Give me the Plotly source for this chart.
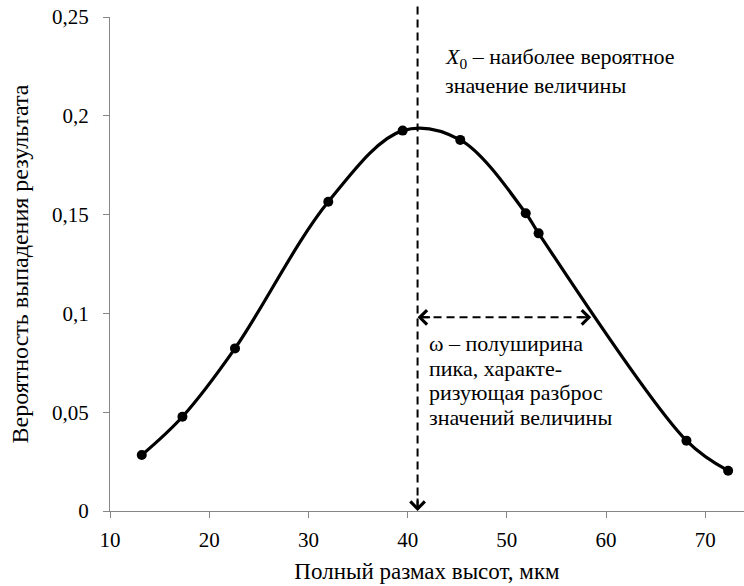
import plotly.graph_objects as go

x_vals = [13.2, 17.3, 22.6, 32.0, 39.5, 45.3, 51.9, 53.2, 68.1, 72.3]
y_vals = [0.0283, 0.0477, 0.0823, 0.1565, 0.1925, 0.1878, 0.1507, 0.1405, 0.0356, 0.0204]

x0_mode = 41.0          # most probable value X0
half_level = 0.098      # level of the half-width arrow
half_right = 58.5       # right end of the half-width arrow

x_ticks = [10, 20, 30, 40, 50, 60, 70]
y_ticks = [0, 0.05, 0.1, 0.15, 0.2, 0.25]
y_ticklabels = ["0", "0,05", "0,1", "0,15", "0,2", "0,25"]

x_title = "Полный размах высот, мкм"
y_title = "Вероятность выпадения результата"
note_x0_lines = ["<i>X</i><sub>0</sub> – наиболее вероятное", "значение величины"]
note_w_lines = ["ω – полуширина", "пика, характе-", "ризующая разброс", "значений величины"]

FONT = "Liberation Serif"
AX = "#868686"

fig = go.Figure()
fig.add_trace(go.Scatter(
    x=x_vals, y=y_vals, mode="lines+markers",
    line=dict(color="black", width=3.2, shape="spline", smoothing=1.0),
    marker=dict(color="black", size=10),
    cliponaxis=False, showlegend=False, hoverinfo="skip"))

shapes = [
    dict(type="line", xref="x", yref="paper", x0=x0_mode, x1=x0_mode, y0=0.005, y1=1.025,
         line=dict(color="black", width=2, dash="8px,5px")),
    dict(type="line", xref="x", yref="y", x0=x0_mode + 0.3, x1=half_right - 0.3,
         y0=half_level, y1=half_level,
         line=dict(color="black", width=2, dash="8px,5px")),
]

annotations = [
    dict(x=x0_mode, y=0, xref="x", yref="y", ax=0, ay=-14, showarrow=True,
         arrowhead=4, arrowsize=1.4, arrowwidth=2, arrowcolor="black", text="", standoff=0),
    dict(x=x0_mode, y=half_level, xref="x", yref="y", ax=14, ay=0, showarrow=True,
         arrowhead=4, arrowsize=1.4, arrowwidth=2, arrowcolor="black", text="", standoff=0),
    dict(x=half_right, y=half_level, xref="x", yref="y", ax=-14, ay=0, showarrow=True,
         arrowhead=4, arrowsize=1.4, arrowwidth=2, arrowcolor="black", text="", standoff=0),
]
for i, line in enumerate(note_x0_lines):
    annotations.append(dict(x=43.6, y=0.25, xref="x", yref="y", text=line, showarrow=False,
                            xanchor="left", yanchor="middle", align="left",
                            yshift=-41 - 27 * i,
                            font=dict(family=FONT, size=22, color="black")))
for i, line in enumerate(note_w_lines):
    annotations.append(dict(x=41.9, y=half_level, xref="x", yref="y", text=line, showarrow=False,
                            xanchor="left", yanchor="middle", align="left",
                            yshift=-26 - 24.7 * i,
                            font=dict(family=FONT, size=22, color="black")))

fig.update_layout(
    width=744, height=586,
    margin=dict(l=110, r=0, t=17, b=75),
    paper_bgcolor="white", plot_bgcolor="white",
    font=dict(family=FONT, size=22, color="black"),
    shapes=shapes, annotations=annotations,
    xaxis=dict(range=[10, 73.9], tickvals=x_ticks, ticks="outside", ticklen=6,
               tickcolor=AX, showline=True, linecolor=AX, linewidth=1.3,
               showgrid=False, zeroline=False, ticklabelstandoff=4,
               title=dict(text=x_title, standoff=11, font=dict(size=23)),
               tickfont=dict(size=21)),
    yaxis=dict(range=[0, 0.25], tickvals=y_ticks, ticktext=y_ticklabels,
               ticks="outside", ticklen=6, tickcolor=AX, showline=True,
               linecolor=AX, linewidth=1.3, showgrid=False, zeroline=False,
               ticklabelstandoff=10,
               title=dict(text=y_title, standoff=16, font=dict(size=24)),
               tickfont=dict(size=21)),
)

fig.write_html("out.html")
